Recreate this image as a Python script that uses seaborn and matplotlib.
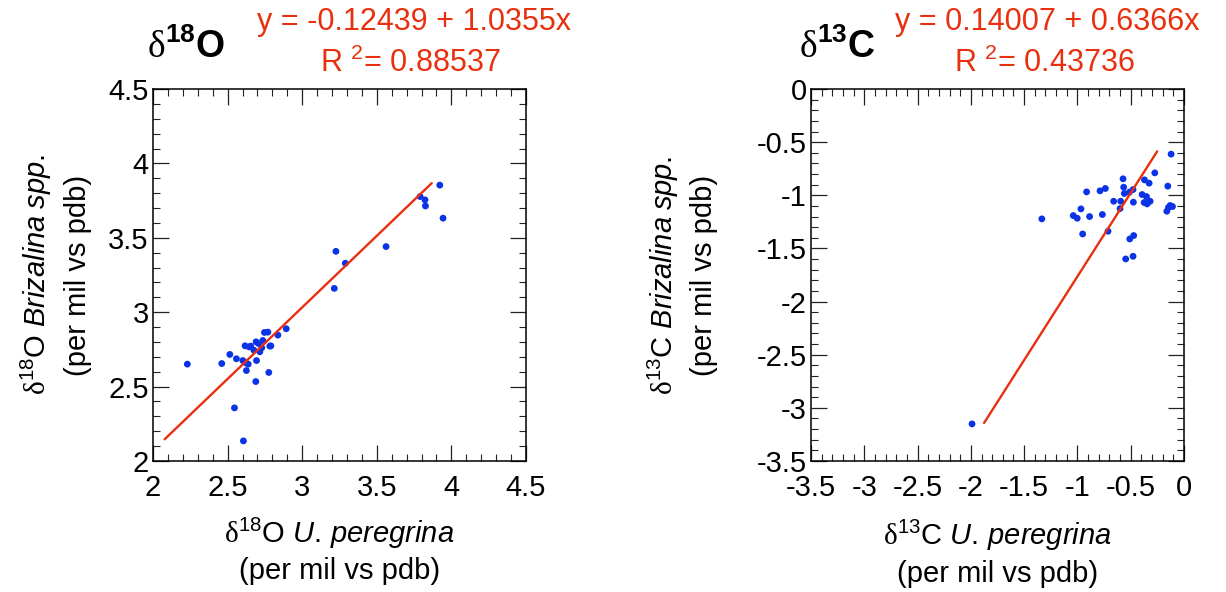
import matplotlib
matplotlib.use("Agg")
import matplotlib.pyplot as plt
import seaborn as sns
import pandas as pd
from matplotlib.ticker import MultipleLocator, FuncFormatter

# ---- data ----
o_x = [2.230, 2.461, 2.515, 2.559, 2.546, 2.606, 2.602, 2.617, 2.638, 2.626, 2.622, 2.644, 2.655,
       2.676, 2.689, 2.694, 2.691, 2.707, 2.716, 2.729, 2.736, 2.747, 2.770, 2.783, 2.790, 2.776,
       2.837, 2.893, 3.226, 3.289, 3.215, 3.562, 3.790, 3.823, 3.826, 3.922, 3.944]
o_y = [2.651, 2.655, 2.716, 2.687, 2.357, 2.135, 2.675, 2.774, 2.651, 2.608, 2.660, 2.767, 2.772,
       2.745, 2.534, 2.675, 2.801, 2.790, 2.734, 2.761, 2.810, 2.864, 2.866, 2.772, 2.774, 2.595,
       2.846, 2.889, 3.409, 3.329, 3.160, 3.441, 3.777, 3.755, 3.714, 3.854, 3.632]
o_fit_x = [2.078, 3.868]
o_fit_y = [2.146, 3.867]

c_x = [-1.989, -1.334, -1.039, -1.002, -0.967, -0.951, -0.914, -0.886, -0.788, -0.738, -0.766,
       -0.713, -0.660, -0.600, -0.594, -0.572, -0.566, -0.560, -0.547, -0.513, -0.509, -0.478,
       -0.472, -0.475, -0.478, -0.393, -0.371, -0.352, -0.374, -0.346, -0.327, -0.318, -0.274,
       -0.152, -0.121, -0.161, -0.146, -0.130, -0.108]
c_y = [-3.151, -1.222, -1.191, -1.216, -1.128, -1.364, -0.968, -1.200, -0.958, -0.936, -1.181,
       -1.338, -1.056, -1.125, -1.056, -0.845, -0.924, -0.983, -1.599, -0.971, -1.411, -0.946,
       -1.379, -1.065, -1.574, -0.993, -0.855, -1.012, -1.068, -1.081, -0.886, -1.056, -0.789,
       -0.914, -0.613, -1.150, -1.115, -1.096, -1.106]
c_fit_x = [-1.876, -0.252]
c_fit_y = [-3.142, -0.587]

o_eq = "y = -0.12439 + 1.0355x"
o_r2 = "R $^{2}$= 0.88537"
c_eq = "y = 0.14007 + 0.6366x"
c_r2 = "R $^{2}$= 0.43736"

o_lim = (2.0, 4.5)
c_lim = (-3.5, 0.0)

sns.set_theme(style="ticks")
plt.rcParams["font.family"] = ["Liberation Sans", "DejaVu Sans"]
plt.rcParams["mathtext.fontset"] = "custom"
plt.rcParams["mathtext.rm"] = "Liberation Sans"
plt.rcParams["mathtext.it"] = "Liberation Sans:italic"
plt.rcParams["mathtext.bf"] = "Liberation Sans:bold"
plt.rcParams["mathtext.sf"] = "Liberation Serif"
plt.rcParams["text.color"] = "black"
plt.rcParams["axes.labelcolor"] = "black"
plt.rcParams["xtick.color"] = "black"
plt.rcParams["ytick.color"] = "black"

BLUE = "#0a32e6"
RED = "#e8300e"
TICK_FS = 21
LAB_FS = 21

fig = plt.figure(figsize=(12.26, 5.92), dpi=100)
ax1 = fig.add_axes([153 / 1226, 1 - 461 / 592, 373 / 1226, 372 / 592])
ax2 = fig.add_axes([811 / 1226, 1 - 461 / 592, 373 / 1226, 372 / 592])

df_o = pd.DataFrame({"x": o_x, "y": o_y})
df_c = pd.DataFrame({"x": c_x, "y": c_y})


def fmt(v, pos):
    s = "%g" % round(v, 3)
    return "0" if s == "-0" else s


def style(ax, lim):
    ax.set_xlim(lim)
    ax.set_ylim(lim)
    ax.xaxis.set_major_locator(MultipleLocator(0.5))
    ax.yaxis.set_major_locator(MultipleLocator(0.5))
    ax.xaxis.set_minor_locator(MultipleLocator(0.1))
    ax.yaxis.set_minor_locator(MultipleLocator(0.1))
    ax.xaxis.set_major_formatter(FuncFormatter(fmt))
    ax.yaxis.set_major_formatter(FuncFormatter(fmt))
    ax.tick_params(which="both", direction="in", top=True, right=True, color="#222222")
    ax.tick_params(which="major", length=11.5, width=0.9, labelsize=TICK_FS, labelcolor="black")
    ax.tick_params(which="minor", length=5, width=0.8)
    ax.tick_params(axis="x", which="major", pad=9)
    ax.tick_params(axis="y", which="major", pad=3)
    for sp in ax.spines.values():
        sp.set_visible(True)
        sp.set_linewidth(1.1)
        sp.set_color("black")


sns.scatterplot(data=df_o, x="x", y="y", ax=ax1, color=BLUE, s=24, edgecolor="none", linewidth=0)
sns.lineplot(x=o_fit_x, y=o_fit_y, ax=ax1, color=RED, linewidth=1.7)
sns.scatterplot(data=df_c, x="x", y="y", ax=ax2, color=BLUE, s=24, edgecolor="none", linewidth=0)
sns.lineplot(x=c_fit_x, y=c_fit_y, ax=ax2, color=RED, linewidth=1.7)

style(ax1, o_lim)
style(ax2, c_lim)

ax1.set_xlabel("$\\mathsf{\\delta}^{18}$O $\\mathit{U.\\,peregrina}$\n(per mil vs pdb)",
               fontsize=LAB_FS, linespacing=1.3, labelpad=10)
ax1.set_ylabel("$\\mathsf{\\delta}^{18}$O $\\mathit{Brizalina\\;spp.}$\n(per mil vs pdb)",
               fontsize=LAB_FS, linespacing=1.42, labelpad=12)
ax2.set_xlabel("$\\mathsf{\\delta}^{13}$C $\\mathit{U.\\,peregrina}$\n(per mil vs pdb)",
               fontsize=LAB_FS, linespacing=1.3, labelpad=12)
ax2.set_ylabel("$\\mathsf{\\delta}^{13}$C $\\mathit{Brizalina\\;spp.}$\n(per mil vs pdb)",
               fontsize=LAB_FS, linespacing=1.42, labelpad=28)

# titles
fig.text(186 / 1226, 1 - 58 / 592, "$\\mathsf{\\delta}^{\\mathbf{18}}\\mathbf{O}$",
         fontsize=27, ha="center", va="baseline", color="black")
fig.text(837 / 1226, 1 - 58 / 592, "$\\mathsf{\\delta}^{\\mathbf{13}}\\mathbf{C}$",
         fontsize=27, ha="center", va="baseline", color="black")

# equations
fig.text(414 / 1226, 1 - 22 / 592, o_eq, fontsize=22, ha="center", va="center", color=RED)
fig.text(410 / 1226, 1 - 63 / 592, o_r2, fontsize=22, ha="center", va="center", color=RED)
fig.text(1047 / 1226, 1 - 22 / 592, c_eq, fontsize=22, ha="center", va="center", color=RED)
fig.text(1044 / 1226, 1 - 63 / 592, c_r2, fontsize=22, ha="center", va="center", color=RED)

fig.savefig("out.png", dpi=100)
